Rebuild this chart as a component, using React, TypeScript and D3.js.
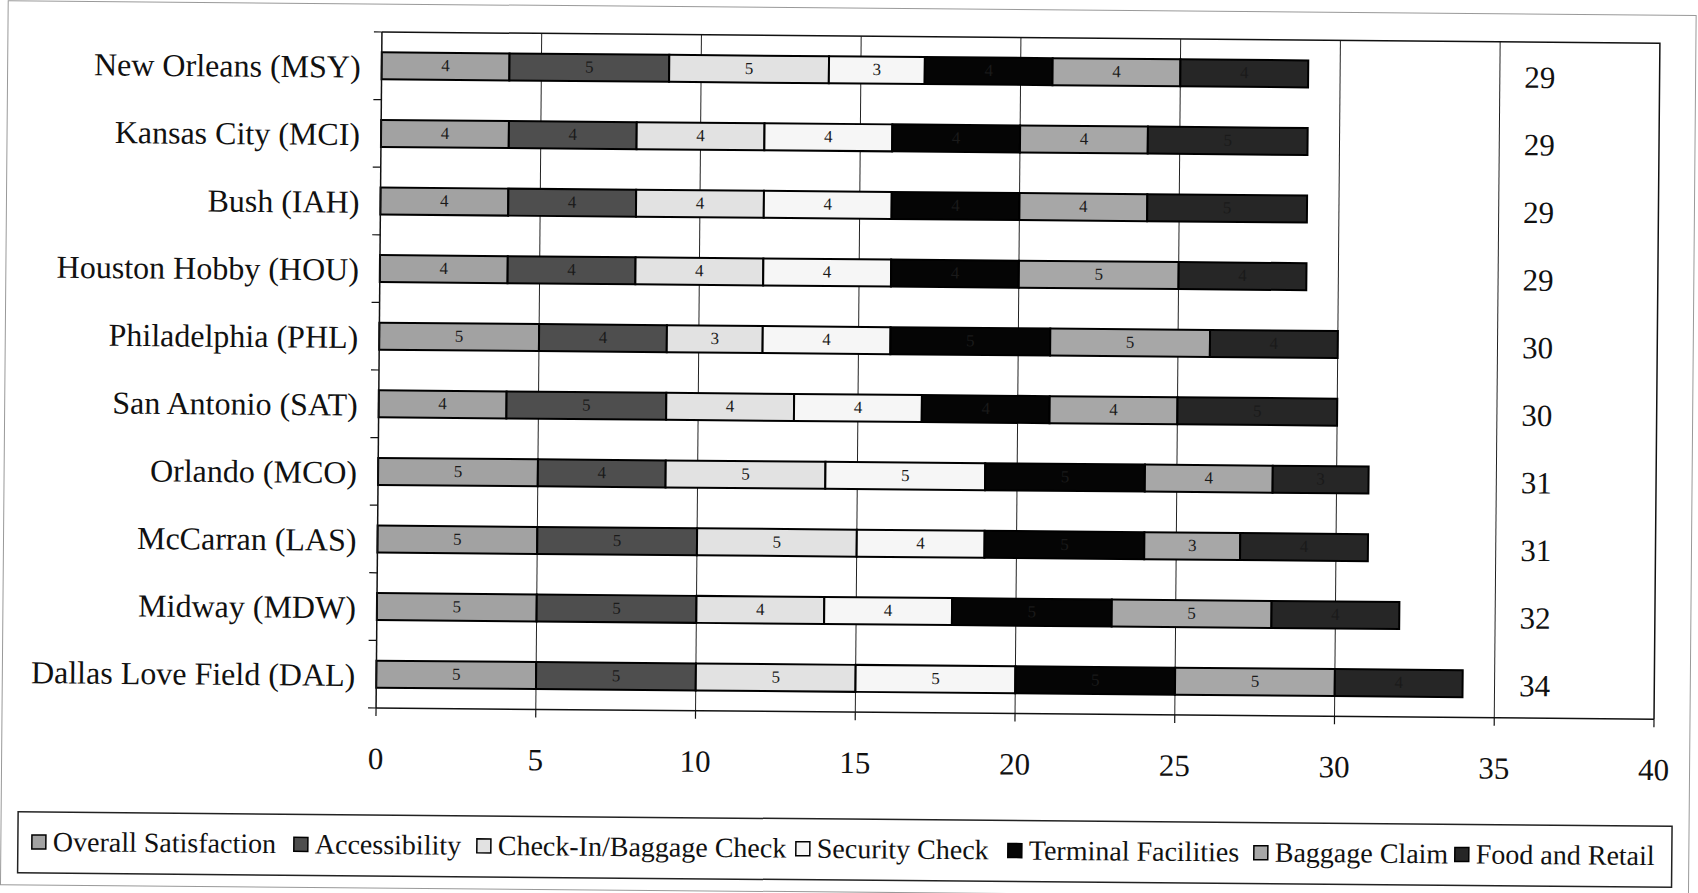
import { useRef, useEffect } from 'react'
import * as d3 from 'd3'

const airports = [
  'New Orleans (MSY)',
  'Kansas City (MCI)',
  'Bush (IAH)',
  'Houston Hobby (HOU)',
  'Philadelphia (PHL)',
  'San Antonio (SAT)',
  'Orlando (MCO)',
  'McCarran (LAS)',
  'Midway (MDW)',
  'Dallas Love Field (DAL)',
]

const seriesNames = [
  'Overall Satisfaction',
  'Accessibility',
  'Check-In/Baggage Check',
  'Security Check',
  'Terminal Facilities',
  'Baggage Claim',
  'Food and Retail',
]

const overall = [4, 4, 4, 4, 5, 4, 5, 5, 5, 5]
const accessibility = [5, 4, 4, 4, 4, 5, 4, 5, 5, 5]
const checkIn = [5, 4, 4, 4, 3, 4, 5, 5, 4, 5]
const security = [3, 4, 4, 4, 4, 4, 5, 4, 4, 5]
const terminal = [4, 4, 4, 4, 5, 4, 5, 5, 5, 5]
const baggage = [4, 4, 4, 5, 5, 4, 4, 3, 5, 5]
const food = [4, 5, 5, 4, 4, 5, 3, 4, 4, 4]

const totals = [29, 29, 29, 29, 30, 30, 31, 31, 32, 34]
const xTicks = [0, 5, 10, 15, 20, 25, 30, 35, 40]

const seriesColors = ['#a2a2a2', '#4e4e4e', '#e2e2e2', '#f6f6f6', '#050505', '#a7a7a7', '#262626']
// legend marker x positions
const legendX = [36, 298, 481, 800, 1012, 1258, 1459]

const W = 1698
const H = 893
const FONT = '"Liberation Serif", "Times New Roman", serif'

export default function App() {
  const svgRef = useRef<SVGSVGElement>(null)

  useEffect(() => {
    if (!svgRef.current) return
    const svg = d3.select(svgRef.current)
    svg.selectAll('*').remove()

    const root = svg.append('g').attr('transform', 'rotate(0.5, 379, 370)')

    // outer frame
    root
      .append('rect')
      .attr('x', 5)
      .attr('y', 4)
      .attr('width', 1688)
      .attr('height', 884)
      .attr('fill', 'none')
      .attr('stroke', '#999')
      .attr('stroke-width', 1)

    const left = 379
    const right = 1657
    const top = 32
    const bottom = 708

    const x = d3.scaleLinear().domain([0, 40]).range([left, right])
    const y = d3.scaleBand().domain(airports).range([top, bottom])
    const barH = 27

    const series = [overall, accessibility, checkIn, security, terminal, baggage, food]
    const rows = airports.map((a, i) => {
      const r: Record<string, number | string> = { airport: a }
      seriesNames.forEach((s, k) => (r[s] = series[k][i]))
      return r
    })
    const stacked = d3.stack<Record<string, number | string>>().keys(seriesNames)(rows as any)

    // gridlines
    root
      .append('g')
      .selectAll('line')
      .data(xTicks.filter((t) => t > 0 && t < 40))
      .join('line')
      .attr('x1', (d) => x(d))
      .attr('x2', (d) => x(d))
      .attr('y1', top)
      .attr('y2', bottom)
      .attr('stroke', '#222')
      .attr('stroke-width', 1)

    // plot frame (top and right)
    root
      .append('path')
      .attr('d', `M${left},${top}H${right}V${bottom}`)
      .attr('fill', 'none')
      .attr('stroke', '#111')
      .attr('stroke-width', 1.5)

    // bars
    const layers = root
      .append('g')
      .selectAll('g')
      .data(stacked)
      .join('g')
      .attr('fill', (_, i) => seriesColors[i])

    layers
      .selectAll('rect')
      .data((d) => d)
      .join('rect')
      .attr('x', (d) => x(d[0]))
      .attr('y', (d) => (y(d.data.airport as string) ?? 0) + y.bandwidth() / 2 - barH / 2)
      .attr('width', (d) => x(d[1]) - x(d[0]))
      .attr('height', barH)
      .attr('stroke', '#000')
      .attr('stroke-width', 2)

    layers
      .selectAll('text')
      .data((d) => d)
      .join('text')
      .attr('x', (d) => (x(d[0]) + x(d[1])) / 2)
      .attr('y', (d) => (y(d.data.airport as string) ?? 0) + y.bandwidth() / 2 + 5)
      .attr('text-anchor', 'middle')
      .attr('font-family', FONT)
      .attr('font-size', 17)
      .attr('fill', '#1a1a1a')
      .text((d) => d[1] - d[0])

    // left axis
    const ya = root.append('g')
    ya.append('line')
      .attr('x1', left)
      .attr('x2', left)
      .attr('y1', top)
      .attr('y2', bottom)
      .attr('stroke', '#111')
      .attr('stroke-width', 1.5)
    ya.selectAll('line.tick')
      .data(d3.range(airports.length + 1))
      .join('line')
      .attr('class', 'tick')
      .attr('x1', left - 8)
      .attr('x2', left)
      .attr('y1', (i) => top + i * y.step())
      .attr('y2', (i) => top + i * y.step())
      .attr('stroke', '#111')
      .attr('stroke-width', 1.2)
    ya.selectAll('text')
      .data(airports)
      .join('text')
      .attr('x', 358)
      .attr('y', (d) => (y(d) ?? 0) + y.bandwidth() / 2 + 12)
      .attr('text-anchor', 'end')
      .attr('font-family', FONT)
      .attr('font-size', 32)
      .attr('fill', '#111')
      .text((d) => d)

    // bottom axis
    const xa = root.append('g')
    xa.append('line')
      .attr('x1', left)
      .attr('x2', right)
      .attr('y1', bottom)
      .attr('y2', bottom)
      .attr('stroke', '#111')
      .attr('stroke-width', 1.5)
    xa.selectAll('line.tick')
      .data(xTicks)
      .join('line')
      .attr('class', 'tick')
      .attr('x1', (d) => x(d))
      .attr('x2', (d) => x(d))
      .attr('y1', bottom)
      .attr('y2', bottom + 8)
      .attr('stroke', '#111')
      .attr('stroke-width', 1.2)
    xa.selectAll('text')
      .data(xTicks)
      .join('text')
      .attr('x', (d) => x(d))
      .attr('y', bottom + 61)
      .attr('text-anchor', 'middle')
      .attr('font-family', FONT)
      .attr('font-size', 31)
      .attr('fill', '#111')
      .text((d) => d)

    // totals column
    root
      .append('g')
      .selectAll('text')
      .data(totals)
      .join('text')
      .attr('x', x(35) + 40)
      .attr('y', (_, i) => (y(airports[i]) ?? 0) + y.bandwidth() / 2 + 12)
      .attr('text-anchor', 'middle')
      .attr('font-family', FONT)
      .attr('font-size', 31)
      .attr('fill', '#111')
      .text((d) => d)

    // legend
    const lg = root.append('g')
    lg.append('rect')
      .attr('x', 22)
      .attr('y', 815)
      .attr('width', 1654)
      .attr('height', 61)
      .attr('fill', 'none')
      .attr('stroke', '#222')
      .attr('stroke-width', 1.5)
    const items = lg
      .selectAll('g')
      .data(seriesNames)
      .join('g')
      .attr('transform', (_, i) => `translate(${legendX[i]},845)`)
    items
      .append('rect')
      .attr('x', 0)
      .attr('y', -7)
      .attr('width', 14)
      .attr('height', 14)
      .attr('fill', (_, i) => seriesColors[i])
      .attr('stroke', '#000')
      .attr('stroke-width', 1.5)
    items
      .append('text')
      .attr('x', 21)
      .attr('y', 9)
      .attr('font-family', FONT)
      .attr('font-size', 28)
      .attr('fill', '#111')
      .text((d) => d)
  }, [])

  return (
    <svg
      ref={svgRef}
      width={W}
      height={H}
      style={{ position: 'absolute', left: 0, top: 0, background: '#fff' }}
    />
  )
}
